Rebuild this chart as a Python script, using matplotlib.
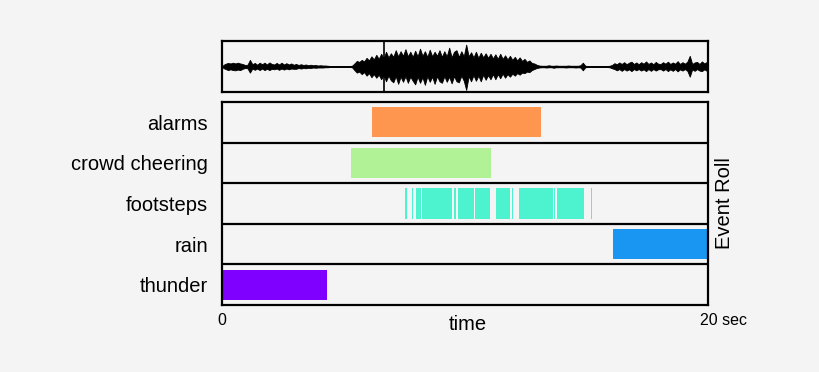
import numpy as np
import matplotlib
matplotlib.use("Agg")
import matplotlib.pyplot as plt
from matplotlib.transforms import offset_copy

plt.rcParams['font.family'] = ['Liberation Sans', 'DejaVu Sans']

# event classes, bottom row first
classes = ["thunder", "rain", "footsteps", "crowd cheering", "alarms"]
class_colors = ["#8000ff", "#1996f2", "#4df2ce", "#b2f296", "#ff964f"]

# (start, end) in seconds for each event
thunder_events = [(0.0, 4.32)]
rain_events = [(16.09, 20.0)]
footsteps_events = [(7.54, 7.60), (7.81, 7.87), (7.98, 8.18), (8.22, 9.48),
                    (9.56, 9.62), (9.70, 10.38), (10.42, 11.03), (11.26, 11.85),
                    (11.95, 11.99), (12.22, 13.61), (13.68, 13.72), (13.79, 14.91),
                    (15.18, 15.22)]
crowd_events = [(5.30, 11.07)]
alarm_events = [(6.17, 13.13)]

# waveform peaks, 0.1 s bins (full scale = 1)
wave_upper = [
    0.06, 0.11, 0.14, 0.12, 0.15, 0.12, 0.15, 0.12, 0.10, 0.06,
    0.07, 0.26, 0.09, 0.14, 0.07, 0.15, 0.09, 0.15, 0.08, 0.16,
    0.10, 0.08, 0.14, 0.08, 0.15, 0.08, 0.13, 0.08, 0.12, 0.07,
    0.10, 0.06, 0.09, 0.06, 0.08, 0.05, 0.07, 0.05, 0.06, 0.04,
    0.05, 0.04, 0.04, 0.03, 0.02, 0.02, 0.02, 0.02, 0.02, 0.02,
    0.02, 0.02, 0.02, 0.03, 0.12, 0.22, 0.18, 0.26, 0.20, 0.34,
    0.24, 0.40, 0.28, 0.46, 0.30, 0.50, 0.32, 0.58, 0.36, 0.52,
    0.38, 0.64, 0.40, 0.60, 0.42, 0.68, 0.40, 0.58, 0.38, 0.62,
    0.40, 0.70, 0.42, 0.60, 0.38, 0.66, 0.40, 0.58, 0.42, 0.64,
    0.38, 0.60, 0.40, 0.74, 0.36, 0.58, 0.64, 0.38, 0.60, 0.40,
    0.86, 0.40, 0.56, 0.36, 0.58, 0.34, 0.54, 0.36, 0.52, 0.34,
    0.50, 0.32, 0.48, 0.30, 0.50, 0.30, 0.44, 0.28, 0.42, 0.26,
    0.38, 0.24, 0.36, 0.22, 0.30, 0.18, 0.24, 0.14, 0.12, 0.07,
    0.04, 0.03, 0.03, 0.03, 0.05, 0.03, 0.03, 0.04, 0.03, 0.03,
    0.03, 0.03, 0.04, 0.03, 0.03, 0.03, 0.03, 0.05, 0.15, 0.03,
    0.02, 0.02, 0.02, 0.02, 0.02, 0.02, 0.02, 0.02, 0.02, 0.03,
    0.06, 0.13, 0.09, 0.16, 0.10, 0.17, 0.09, 0.15, 0.19, 0.10,
    0.16, 0.09, 0.17, 0.11, 0.20, 0.10, 0.16, 0.09, 0.18, 0.11,
    0.10, 0.17, 0.11, 0.19, 0.10, 0.16, 0.11, 0.21, 0.10, 0.17,
    0.11, 0.19, 0.42, 0.10, 0.16, 0.18, 0.10, 0.20, 0.12, 0.18]
wave_lower = [
    0.06, 0.10, 0.14, 0.11, 0.14, 0.15, 0.12, 0.14, 0.09, 0.06,
    0.07, 0.24, 0.08, 0.13, 0.08, 0.14, 0.08, 0.14, 0.09, 0.14,
    0.09, 0.11, 0.08, 0.13, 0.08, 0.12, 0.08, 0.11, 0.08, 0.09,
    0.09, 0.06, 0.08, 0.06, 0.07, 0.05, 0.06, 0.04, 0.05, 0.04,
    0.04, 0.04, 0.03, 0.03, 0.02, 0.02, 0.02, 0.02, 0.02, 0.02,
    0.02, 0.02, 0.02, 0.03, 0.14, 0.24, 0.20, 0.30, 0.22, 0.36,
    0.26, 0.42, 0.30, 0.44, 0.32, 0.50, 0.34, 0.58, 0.36, 0.54,
    0.62, 0.38, 0.68, 0.40, 0.60, 0.38, 0.64, 0.40, 0.56, 0.70,
    0.40, 0.64, 0.42, 0.72, 0.38, 0.60, 0.40, 0.68, 0.38, 0.58,
    0.64, 0.38, 0.60, 0.40, 0.66, 0.38, 0.58, 0.62, 0.36, 0.56,
    0.92, 0.38, 0.58, 0.34, 0.56, 0.36, 0.58, 0.32, 0.52, 0.34,
    0.50, 0.30, 0.50, 0.30, 0.46, 0.28, 0.44, 0.30, 0.40, 0.28,
    0.36, 0.26, 0.32, 0.24, 0.26, 0.20, 0.22, 0.14, 0.10, 0.06,
    0.04, 0.03, 0.03, 0.04, 0.03, 0.03, 0.05, 0.03, 0.03, 0.03,
    0.03, 0.04, 0.03, 0.03, 0.03, 0.04, 0.03, 0.04, 0.15, 0.03,
    0.02, 0.02, 0.02, 0.02, 0.02, 0.02, 0.02, 0.02, 0.02, 0.03,
    0.07, 0.10, 0.15, 0.10, 0.17, 0.10, 0.16, 0.11, 0.18, 0.10,
    0.15, 0.10, 0.16, 0.11, 0.18, 0.10, 0.17, 0.10, 0.16, 0.11,
    0.10, 0.16, 0.10, 0.18, 0.11, 0.17, 0.10, 0.19, 0.11, 0.16,
    0.10, 0.17, 0.40, 0.11, 0.17, 0.10, 0.16, 0.18, 0.11, 0.17]
cursor_time = 6.67
duration = 20

bg = '#f4f4f4'
fig = plt.figure(figsize=(8.2, 3.72), dpi=100, facecolor=bg)

# waveform panel
ax_w = fig.add_axes([0.2707, 0.7527, 0.5927, 0.137], facecolor=bg)
t = np.arange(len(wave_upper)) * 0.1 + 0.05
ax_w.fill_between(t, -np.array(wave_lower), np.array(wave_upper),
                  color='black', lw=0.6)
ax_w.plot([0, duration], [0, 0], color='black', lw=1.2)
ax_w.axvline(cursor_time, color='black', lw=1.2)
ax_w.set_xlim(0, duration)
ax_w.set_ylim(-1, 1)
ax_w.set_xticks([])
ax_w.set_yticks([])
for s in ax_w.spines.values():
    s.set_linewidth(1.6)

# event roll panel
ax = fig.add_axes([0.2707, 0.1801, 0.5927, 0.5457], facecolor=bg)
all_events = [thunder_events, rain_events, footsteps_events, crowd_events, alarm_events]
for i, evs in enumerate(all_events):
    starts = [a for a, b in evs]
    widths = [b - a for a, b in evs]
    ax.barh([i + 0.5] * len(evs), widths, left=starts, height=0.74,
            color=class_colors[i], lw=0)
for k in range(1, len(classes)):
    ax.axhline(k, color='black', lw=1.6)

ax.set_xlim(0, duration)
ax.set_ylim(0, len(classes))
ax.set_yticks(np.arange(len(classes)) + 0.5)
ax.set_yticklabels(classes, fontsize=14.5)
ax.tick_params(axis='y', length=0, pad=10)
ax.set_xticks([0])
ax.set_xticklabels(["0"], fontsize=11.5)
ax.tick_params(axis='x', length=0, pad=6)
end_tr = offset_copy(ax.get_xaxis_transform(), fig=fig, x=-8, y=-8, units='dots')
ax.text(duration, 0, "20 sec", transform=end_tr, fontsize=11.5,
        ha='left', va='top')
for s in ax.spines.values():
    s.set_linewidth(1.6)
ax.set_xlabel("time", fontsize=14.5)
ax.xaxis.set_label_coords(0.505, -0.05)

fig.text(725 / 820, 1 - 203 / 372, "Event Roll", rotation=90,
         fontsize=14.5, ha='center', va='center')

fig.savefig("out.png", dpi=100, facecolor=bg)
